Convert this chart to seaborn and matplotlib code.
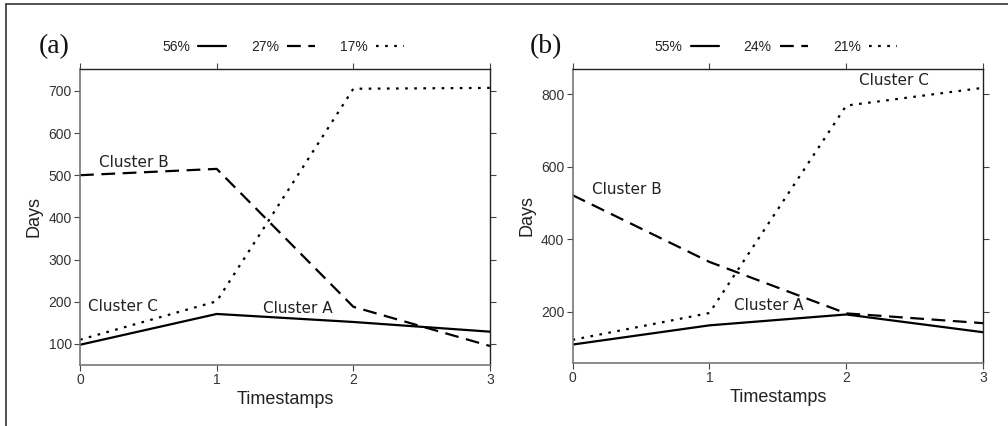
import matplotlib
matplotlib.use("Agg")
import matplotlib.pyplot as plt
import seaborn as sns
import pandas as pd
from matplotlib.lines import Line2D

# ---- data ----
timestamps = [0, 1, 2, 3]
a_cluster_A = [98, 171, 152, 129]
a_cluster_B = [500, 515, 188, 95]
a_cluster_C = [110, 201, 705, 707]
a_shares = ["56%", "27%", "17%"]

b_cluster_A = [110, 163, 193, 144]
b_cluster_B = [522, 338, 196, 169]
b_cluster_C = [123, 197, 769, 818]
b_shares = ["55%", "24%", "21%"]

panel_labels = ["(a)", "(b)"]

sns.set_theme(style="white")
plt.rcParams["font.family"] = ["Liberation Sans", "DejaVu Sans"]

fig = plt.figure(figsize=(10.08, 4.26), dpi=100)
ax_a = fig.add_axes([0.0794, 0.1432, 0.4067, 0.695])
ax_b = fig.add_axes([0.568, 0.1486, 0.4073, 0.6895])

styles = [
    dict(linestyle="-"),
    dict(linestyle=(0, (6.2, 3.4))),
    dict(linestyle=(0, (1.2, 2.9))),
]


def draw(ax, series, shares, ylim, yticks, notes, label, lx):
    for vals, st, sh in zip(series, styles, shares):
        df = pd.DataFrame({"t": timestamps, "days": vals})
        sns.lineplot(data=df, x="t", y="days", ax=ax, color="black",
                     linewidth=1.6, label=sh, **st)
    ax.set_xlim(0, 3)
    ax.set_ylim(*ylim)
    ax.set_xticks(timestamps)
    ax.set_yticks(yticks)
    ax.set_xlabel("Timestamps", fontsize=13, color="#222222", labelpad=3)
    ax.set_ylabel("Days", fontsize=13, color="#222222", labelpad=4)
    ax.tick_params(axis="both", which="both", direction="out", length=4,
                   width=0.8, color="#444444", labelsize=10,
                   labelcolor="#333333", pad=2,
                   top=True, right=True, bottom=True, left=True,
                   labeltop=False, labelright=False)
    for side in ["left", "bottom"]:
        ax.spines[side].set_color("#777777")
        ax.spines[side].set_linewidth(1.2)
    for side in ["top", "right"]:
        ax.spines[side].set_color("#222222")
        ax.spines[side].set_linewidth(1.0)
    for txt, x, y in notes:
        ax.text(x, y, txt, fontsize=11, family="DejaVu Sans",
                color="#222222", ha="left", va="center")
    leg = ax.legend(loc="center", bbox_to_anchor=(0.495, 1.074), ncol=3,
                    frameon=False, markerfirst=False, fontsize=10,
                    handlelength=2.0, columnspacing=1.8, handletextpad=0.6)
    for t in leg.get_texts():
        t.set_color("#222222")
    fig.text(lx, 0.89, label, fontsize=20, family="Liberation Serif",
             ha="center", va="center", color="#111111")


draw(ax_a, [a_cluster_A, a_cluster_B, a_cluster_C], a_shares,
     (50, 752), [100, 200, 300, 400, 500, 600, 700],
     [("Cluster B", 0.14, 530), ("Cluster C", 0.06, 188),
      ("Cluster A", 1.34, 184)], panel_labels[0], 0.054)

draw(ax_b, [b_cluster_A, b_cluster_B, b_cluster_C], b_shares,
     (60, 870), [200, 400, 600, 800],
     [("Cluster B", 0.14, 537), ("Cluster C", 2.09, 838),
      ("Cluster A", 1.18, 219)], panel_labels[1], 0.542)

# outer frame (left and top edges)
fig.add_artist(Line2D([0.0055, 0.0055], [0.0, 0.991], transform=fig.transFigure,
                      color="#333333", linewidth=1.2))
fig.add_artist(Line2D([0.0055, 1.0], [0.991, 0.991], transform=fig.transFigure,
                      color="#333333", linewidth=1.2))

fig.savefig("out.png", dpi=100)
